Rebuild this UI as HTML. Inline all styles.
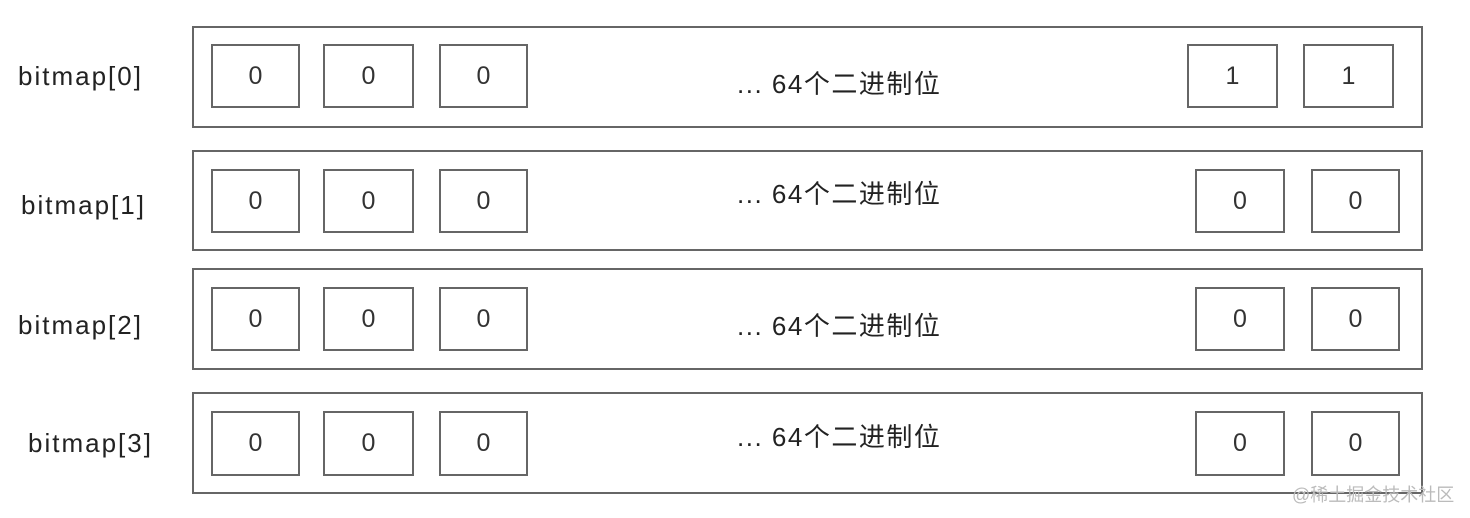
<!DOCTYPE html>
<html><head><meta charset="utf-8"><style>
body{margin:0;background:#fff;width:1470px;height:518px;position:relative;overflow:hidden;font-family:"Liberation Sans","Noto Sans CJK SC",sans-serif;color:#222}
.o{position:absolute;border:2px solid #666;box-sizing:border-box}
.b{position:absolute;border:2px solid #666;box-sizing:border-box;display:flex;align-items:center;justify-content:center;font-size:25px;color:#333}
.t{position:absolute;font-size:26px;white-space:nowrap;line-height:1;letter-spacing:1.5px}
.l{letter-spacing:2px}
.w{position:absolute;font-size:18px;color:#bbb;white-space:nowrap}
</style></head><body>
<div class="t l" style="left:18px;top:63px">bitmap[0]</div>
<div class="t l" style="left:21px;top:192px">bitmap[1]</div>
<div class="t l" style="left:18px;top:312px">bitmap[2]</div>
<div class="t l" style="left:28px;top:430px">bitmap[3]</div>

<div class="o" style="left:192px;top:26px;width:1231px;height:102px"></div>
<div class="o" style="left:192px;top:150px;width:1231px;height:101px"></div>
<div class="o" style="left:192px;top:268px;width:1231px;height:102px"></div>
<div class="o" style="left:192px;top:392px;width:1231px;height:102px"></div>

<div class="b" style="left:211px;top:44px;width:89px;height:64px">0</div>
<div class="b" style="left:323px;top:44px;width:91px;height:64px">0</div>
<div class="b" style="left:439px;top:44px;width:89px;height:64px">0</div>
<div class="b" style="left:1187px;top:44px;width:91px;height:64px">1</div>
<div class="b" style="left:1303px;top:44px;width:91px;height:64px">1</div>
<div class="t" style="left:737px;top:71px">... 64个二进制位</div>

<div class="b" style="left:211px;top:169px;width:89px;height:64px">0</div>
<div class="b" style="left:323px;top:169px;width:91px;height:64px">0</div>
<div class="b" style="left:439px;top:169px;width:89px;height:64px">0</div>
<div class="b" style="left:1195px;top:169px;width:90px;height:64px">0</div>
<div class="b" style="left:1311px;top:169px;width:89px;height:64px">0</div>
<div class="t" style="left:737px;top:181px">... 64个二进制位</div>

<div class="b" style="left:211px;top:287px;width:89px;height:64px">0</div>
<div class="b" style="left:323px;top:287px;width:91px;height:64px">0</div>
<div class="b" style="left:439px;top:287px;width:89px;height:64px">0</div>
<div class="b" style="left:1195px;top:287px;width:90px;height:64px">0</div>
<div class="b" style="left:1311px;top:287px;width:89px;height:64px">0</div>
<div class="t" style="left:737px;top:313px">... 64个二进制位</div>

<div class="b" style="left:211px;top:411px;width:89px;height:65px">0</div>
<div class="b" style="left:323px;top:411px;width:91px;height:65px">0</div>
<div class="b" style="left:439px;top:411px;width:89px;height:65px">0</div>
<div class="b" style="left:1195px;top:411px;width:90px;height:65px">0</div>
<div class="b" style="left:1311px;top:411px;width:89px;height:65px">0</div>
<div class="t" style="left:737px;top:424px">... 64个二进制位</div>

<div class="w" style="left:1292px;top:481px">@稀土掘金技术社区</div>
</body></html>
